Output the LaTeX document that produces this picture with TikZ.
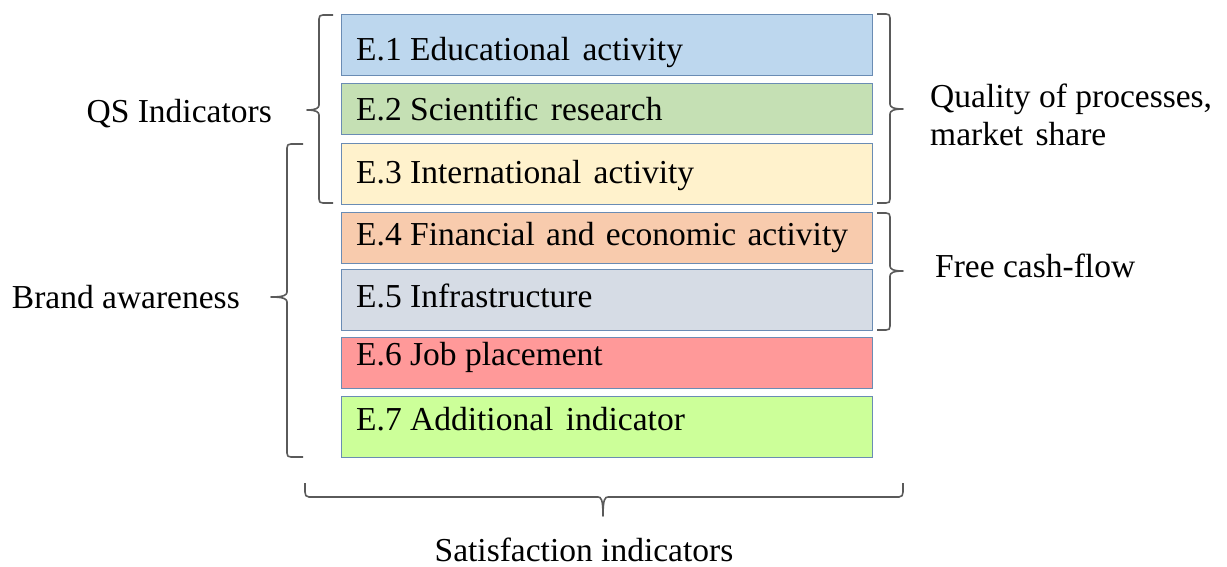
\documentclass[tikz,border=0pt]{standalone}
\usepackage{fontspec}
\setmainfont{Liberation Serif}
\newfontfamily\timesfam{Liberation Serif}
\begin{document}
\begin{tikzpicture}[x=1pt,y=-1pt,
  box/.style={draw=boxline, line width=1.3pt, anchor=north west, minimum width=531pt, inner sep=0pt},
  lbl/.style={inner sep=0pt, font=\timesfam\fontsize{33.5}{40}\selectfont, text=black},
  brc/.style={draw=braceline, line width=1.6pt, line join=round}]
\definecolor{boxline}{HTML}{6A8CB4}
\definecolor{braceline}{HTML}{5A5A5A}
\definecolor{cA}{HTML}{BDD7EE}
\definecolor{cB}{HTML}{C5E0B4}
\definecolor{cC}{HTML}{FFF2CC}
\definecolor{cD}{HTML}{F8CBAD}
\definecolor{cE}{HTML}{D6DCE5}
\definecolor{cF}{HTML}{FF9999}
\definecolor{cG}{HTML}{CCFF99}
\useasboundingbox (0,0) rectangle (1227,566);

% indicator boxes
\node[box, fill=cA, minimum height=61pt] (e1) at (341,14) {};
\node[box, fill=cB, minimum height=51pt] (e2) at (341,83) {};
\node[box, fill=cC, minimum height=61pt] (e3) at (341,143) {};
\node[box, fill=cD, minimum height=51pt] (e4) at (341,212) {};
\node[box, fill=cE, minimum height=61pt] (e5) at (341,269) {};
\node[box, fill=cF, minimum height=51pt] (e6) at (341,337) {};
\node[box, fill=cG, minimum height=61pt] (e7) at (341,396) {};

\node[lbl, anchor=base west] (t1) at (356,60) {E.1 Educational\hspace{4pt} activity};
\node[lbl, anchor=base west] (t2) at (356,120) {E.2 Scientific\hspace{4pt} research};
\node[lbl, anchor=base west] (t3) at (356,183) {E.3 International\hspace{4pt} activity};
\node[lbl, anchor=base west] (t4) at (356,245) {E.4 Financial\hspace{3pt} and\hspace{3pt} economic\hspace{3pt} activity};
\node[lbl, anchor=base west] (t5) at (356,307) {E.5 Infrastructure};
\node[lbl, anchor=base west] (t6) at (356,365) {E.6 Job placement};
\node[lbl, anchor=base west] (t7) at (356,430) {E.7 Additional\hspace{4pt} indicator};

% side labels
\node[lbl, anchor=base east] (qs) at (272,122) {QS Indicators};
\node[lbl, anchor=base east] (ba) at (240,308) {Brand awareness};
\node[lbl, anchor=base west] (qp) at (930,107) {Quality of processes,};
\node[lbl, anchor=base west] (ms) at (930,145) {market\hspace{4pt} share};
\node[lbl, anchor=base west] (fc) at (935,277) {Free cash-flow};
\node[lbl, anchor=base] (si) at (584,561) {Satisfaction indicators};

% left brace: QS Indicators (E.1 - E.3)
\draw[brc] (333,15) -- (323,15) .. controls (320,15) and (319,16) .. (319,19)
  -- (319,105) .. controls (319,108) and (316,110) .. (307,110)
  .. controls (316,110) and (319,112) .. (319,115)
  -- (319,199) .. controls (319,202) and (320,203) .. (323,203) -- (333,203);

% left brace: Brand awareness (E.3 - E.7)
\draw[brc] (303,144) -- (291,144) .. controls (288,144) and (287,145) .. (287,148)
  -- (287,292) .. controls (287,295) and (284,297) .. (271,297)
  .. controls (284,297) and (287,299) .. (287,302)
  -- (287,453) .. controls (287,456) and (288,457) .. (291,457) -- (303,457);

% right brace: quality of processes (E.1 - E.3)
\draw[brc] (877,14) -- (886,14) .. controls (889,14) and (890,15) .. (890,18)
  -- (890,104) .. controls (890,107) and (893,109) .. (903,109)
  .. controls (893,109) and (890,111) .. (890,114)
  -- (890,199) .. controls (890,202) and (889,203) .. (886,203) -- (877,203);

% right brace: free cash-flow (E.4 - E.5)
\draw[brc] (877,213) -- (886,213) .. controls (889,213) and (890,214) .. (890,217)
  -- (890,266) .. controls (890,269) and (893,271) .. (903,271)
  .. controls (893,271) and (890,273) .. (890,276)
  -- (890,326) .. controls (890,329) and (889,330) .. (886,330) -- (877,330);

% bottom brace: satisfaction indicators
\draw[brc] (305,483) -- (305,492) .. controls (305,495) and (306,497) .. (309,497)
  -- (598,497) .. controls (601,497) and (603,499) .. (603,516)
  .. controls (603,499) and (605,497) .. (608,497)
  -- (899,497) .. controls (902,497) and (903,495) .. (903,492) -- (903,483);
\end{tikzpicture}
\end{document}
